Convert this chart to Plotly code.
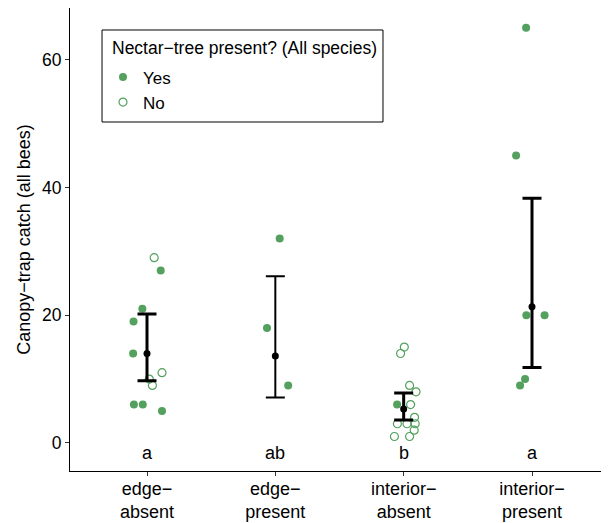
import plotly.graph_objects as go

categories = ["edge−<br>absent", "edge−<br>present", "interior−<br>absent", "interior−<br>present"]
group_letters = ["a", "ab", "b", "a"]

# individual trap catches: group index (1-4), value, nectar-tree present, jitter offset
pt_group = [1]*11 + [2]*3 + [3]*13 + [4]*6
pt_value = [29, 27, 21, 19, 14, 11, 10, 9, 6, 6, 5,
            32, 18, 9,
            15, 14, 9, 8, 6, 6, 4, 3, 3, 3, 2, 1, 1,
            65, 45, 20, 20, 10, 9]
pt_nectar = ["No", "Yes", "Yes", "Yes", "Yes", "No", "No", "No", "Yes", "Yes", "Yes",
             "Yes", "Yes", "Yes",
             "No", "No", "No", "No", "Yes", "No", "No", "No", "No", "No", "No", "No", "No",
             "Yes", "Yes", "Yes", "Yes", "Yes", "Yes"]
pt_jitter = [0.056, 0.107, -0.036, -0.105, -0.108, 0.117, 0.018, 0.042, -0.102, -0.033, 0.117,
             0.034, -0.065, 0.100,
             0.005, -0.024, 0.046, 0.096, -0.051, 0.054, 0.085, -0.049, 0.026, 0.090, 0.082, -0.072, 0.046,
             -0.046, -0.124, -0.044, 0.098, -0.054, -0.093]

# model estimates with interval
est_mean = [14.0, 13.6, 5.3, 21.3]
est_low = [9.75, 7.1, 3.6, 11.8]
est_high = [20.2, 26.1, 7.8, 38.3]
bar_widths = [3, 2, 3, 3]

legend_title = "Nectar−tree present? (All species)"

green = "rgb(84,160,94)"
FONT = "Liberation Sans"

fig = go.Figure()

for label, sym in [("Yes", "circle"), ("No", "circle-open")]:
    xs = [g + j for g, j, n in zip(pt_group, pt_jitter, pt_nectar) if n == label]
    ys = [v for v, n in zip(pt_value, pt_nectar) if n == label]
    fig.add_trace(go.Scatter(
        x=xs, y=ys, mode="markers", name=label,
        marker=dict(symbol=sym, size=8, color=green,
                    line=dict(color=green, width=1.2 if label == "No" else 0)),
    ))

for i in range(4):
    fig.add_trace(go.Scatter(
        x=[i + 1], y=[est_mean[i]], mode="markers", showlegend=False,
        marker=dict(symbol="circle", size=7, color="black"),
        error_y=dict(type="data", symmetric=False,
                     array=[est_high[i] - est_mean[i]],
                     arrayminus=[est_mean[i] - est_low[i]],
                     color="black", thickness=bar_widths[i], width=9.5),
    ))

for i, lt in enumerate(group_letters):
    fig.add_annotation(x=i + 1, y=-1.6, text=lt, showarrow=False,
                       font=dict(size=18, color="black", family=FONT),
                       xref="x", yref="y")

# legend frame and title
fig.add_shape(type="rect", xref="paper", yref="paper",
              x0=0.0594, x1=0.5807, y0=0.7538, y1=0.9525,
              line=dict(color="black", width=1), fillcolor="white", layer="below")
fig.add_annotation(xref="paper", yref="paper", x=0.0742, y=0.9143,
                   xanchor="left", yanchor="middle", showarrow=False,
                   text=legend_title, font=dict(size=17.5, color="black", family=FONT))

# page body has an 8px margin, so the figure is drawn 8px smaller
fig.update_layout(
    width=601, height=515,
    margin=dict(l=62, r=0, t=0, b=52),
    plot_bgcolor="white", paper_bgcolor="white",
    font=dict(family=FONT, size=17, color="black"),
    showlegend=True,
    legend=dict(
        x=0.0612, y=0.889, xanchor="left", yanchor="top",
        borderwidth=0, bgcolor="rgba(0,0,0,0)",
        font=dict(size=17), itemsizing="trace", tracegroupgap=0,
    ),
    xaxis=dict(
        range=[0.4, 4.6], tickmode="array", tickvals=[1, 2, 3, 4], ticktext=categories,
        showline=True, linecolor="black", linewidth=1.2, ticks="outside", ticklen=4,
        tickcolor="#333333", showgrid=False, zeroline=False,
        tickfont=dict(size=18, color="black"), automargin=False,
        ticklabelstandoff=-3,
    ),
    yaxis=dict(
        range=[-4.4, 68.1], tickvals=[0, 20, 40, 60],
        showline=True, linecolor="black", linewidth=1.2, ticks="outside", ticklen=4,
        tickcolor="#333333", showgrid=False, zeroline=False,
        tickfont=dict(size=17.5, color="black"), automargin=False,
        title=dict(text="Canopy−trap catch (all bees)", font=dict(size=18), standoff=6),
    ),
)

fig.write_html("out.html")
